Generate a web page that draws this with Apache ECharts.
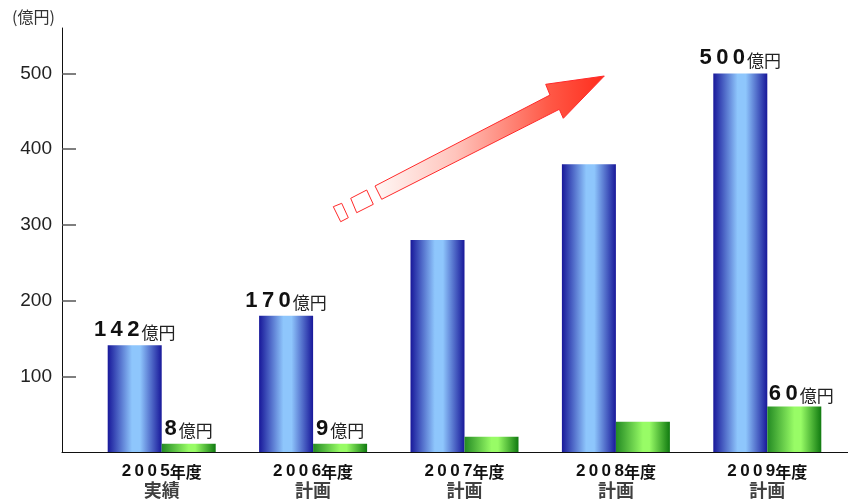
<!DOCTYPE html>
<html><head><meta charset="utf-8">
<script src="https://cdn.jsdelivr.net/npm/echarts@6/dist/echarts.min.js"></script>
<style>html,body{margin:0;padding:0;background:#fff}#c{width:848px;height:504px}</style>
</head><body><div id="c"></div>
<script>
const categories = ['2005', '2006', '2007', '2008', '2009'];
const categorySuffix = '年度';
const subLabels = ['実績', '計画', '計画', '計画', '計画'];
const blueValues = [141, 180, 280, 380, 500];
const blueLabels = ['142', '170', '', '', '500'];
const greenValues = [11, 11, 20, 40, 60];
const greenLabels = ['8', '9', '', '', '60'];
const unitText = '(億円)';
const labelUnit = '億円';
const yTicks = [100, 200, 300, 400, 500];

const spaced = s => s.split('').join('\u2009');
const digitFont = '"Liberation Sans",Arial,sans-serif';
const cjkFont = '"Noto Sans CJK JP",sans-serif';

const blueGrad = new echarts.graphic.LinearGradient(0, 0, 1, 0, [
  {offset: 0, color: '#18189a'}, {offset: 0.45, color: '#8ec6fc'},
  {offset: 0.6, color: '#8ec6fc'}, {offset: 1, color: '#18189a'}]);
const greenGrad = new echarts.graphic.LinearGradient(0, 0, 1, 0, [
  {offset: 0, color: '#238a23'}, {offset: 0.5, color: '#98fc66'},
  {offset: 0.62, color: '#98fc66'}, {offset: 1, color: '#107a10'}]);

const labelRich = {
  n: {fontSize: 22, fontWeight: 'bold', fontFamily: digitFont, color: '#111'},
  u: {fontSize: 17, fontFamily: cjkFont, color: '#222', padding: [4, 0, 0, 2]}
};
function mkLabel(arr) {
  return {show: true, position: 'top', distance: 4, rich: labelRich,
    formatter: p => arr[p.dataIndex] ? '{n|' + spaced(arr[p.dataIndex]) + '}{u|' + labelUnit + '}' : ''};
}

const greenData = greenValues.map((v, i) => i === 4 ? {value: v, label: {offset: [7, 2]}} : v);

const option = {
  animation: false,
  backgroundColor: '#fff',
  title: {text: unitText, left: 7, top: 4, textStyle: {fontSize: 16, fontWeight: 'normal', color: '#333', fontFamily: cjkFont}},
  grid: [
    {left: 86, right: 5, top: 28, bottom: 52},
    {left: 62, right: 0, top: 28, bottom: 52}
  ],
  xAxis: [
    {type: 'category', gridIndex: 0, data: categories,
      axisLine: {show: false}, axisTick: {show: false},
      axisLabel: {margin: 10, interval: 0, lineHeight: 19,
        formatter: (v, i) => '{d|' + spaced(v) + '}{k|' + categorySuffix + '}\n{s|' + subLabels[i] + '}',
        rich: {
          d: {fontSize: 17, fontWeight: 'bold', fontFamily: digitFont, color: '#111'},
          k: {fontSize: 16, fontWeight: 'bold', fontFamily: cjkFont, color: '#111'},
          s: {fontSize: 18, fontWeight: 'bold', fontFamily: cjkFont, color: '#404040'}
        }}},
    {type: 'value', gridIndex: 1, min: 0, max: 1,
      axisLine: {show: true, lineStyle: {color: '#111', width: 1}},
      axisTick: {show: false}, axisLabel: {show: false}, splitLine: {show: false}}
  ],
  yAxis: [
    {type: 'value', gridIndex: 0, min: 0, max: 560, show: false, splitLine: {show: false}},
    {type: 'value', gridIndex: 1, min: 0, max: 560, interval: 20,
      axisLine: {show: true, lineStyle: {color: '#111', width: 1}},
      axisTick: {show: true, inside: true, length: 14, customValues: yTicks, lineStyle: {color: '#555', width: 1.5}},
      axisLabel: {customValues: yTicks, margin: 10, fontSize: 19, color: '#222', fontFamily: '"Liberation Sans",Arial,sans-serif'},
      splitLine: {show: false}}
  ],
  graphic: [
    {type: 'polygon', shape: {points: [[333.3, 206.7], [341.7, 203.3], [348.3, 217.7], [340.7, 221.7]]},
      style: {fill: '#fff', stroke: '#ff2a2a', lineWidth: 1}},
    {type: 'polygon', shape: {points: [[350.7, 198.3], [366.7, 190], [373.3, 204.3], [356.7, 212.7]]},
      style: {fill: '#fff', stroke: '#ff2a2a', lineWidth: 1}},
    {type: 'polygon', shape: {points: [[375, 186], [550, 95], [545.7, 84.3], [604.3, 76], [563.3, 118.3], [559.3, 109.3], [381.7, 199.3]]},
      style: {
        fill: new echarts.graphic.LinearGradient(0, 0, 1, 0, [
          {offset: 0, color: '#fff8f6'}, {offset: 0.35, color: '#ffc4bc'}, {offset: 0.75, color: '#ff5a48'}, {offset: 1, color: '#ff2c1c'}], false),
        stroke: '#ff2a2a', lineWidth: 1}}
  ],
  series: [
    {type: 'bar', xAxisIndex: 0, yAxisIndex: 0, data: blueValues, barWidth: 54, barGap: '0%',
      itemStyle: {color: blueGrad}, label: mkLabel(blueLabels)},
    {type: 'bar', xAxisIndex: 0, yAxisIndex: 0, data: greenData, barWidth: 54, barGap: '0%',
      itemStyle: {color: greenGrad}, label: mkLabel(greenLabels)}
  ]
};
echarts.init(document.getElementById('c')).setOption(option);
</script></body></html>
